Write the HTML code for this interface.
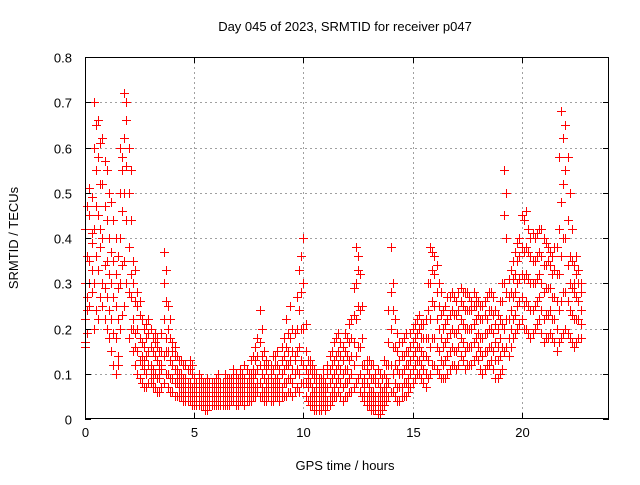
<!DOCTYPE html>
<html><head><meta charset="utf-8"><style>
body{margin:0;background:#fff;font-family:"Liberation Sans",sans-serif}
svg text{font-family:"Liberation Sans",sans-serif;font-size:13px;fill:#000}
</style></head><body>
<svg id="chart" width="640" height="480">
<rect width="640" height="480" fill="#fff"/>
<g id="grid"></g>
<g id="marks"></g>
<rect x="85.5" y="57.5" width="523" height="361" fill="none" stroke="#000" stroke-width="1" shape-rendering="crispEdges"/>
<g id="ticks" shape-rendering="crispEdges"></g>
<text x="345" y="31" text-anchor="middle">Day 045 of 2023, SRMTID for receiver p047</text>
<text x="345" y="470" text-anchor="middle">GPS time / hours</text>
<text transform="translate(18,238) rotate(-90)" text-anchor="middle">SRMTID / TECUs</text>
</svg>
<script>
const xTicks=[0,5,10,15,20];
const yTicks=[0,0.1,0.2,0.3,0.4,0.5,0.6,0.7,0.8];
const yTickLabels=["0","0.1","0.2","0.3","0.4","0.5","0.6","0.7","0.8"];
// times (hours) and values (hundredths of TECU)
const times=[0.0,0.2,0.4,0.6,0.8,1.0,1.2,1.4,1.6,1.8,2.0,2.2,2.4,2.6,2.8,3.0,3.2,3.4,3.6,3.8,4.0,4.2,4.4,4.6,4.8,5.0,5.2,5.4,5.6,5.8,6.0,6.2,6.4,6.6,6.8,7.0,7.2,7.4,7.6,7.8,8.0,8.2,8.4,8.6,8.8,9.0,9.2,9.4,9.6,9.8,10.0,10.2,10.4,10.6,10.8,11.0,11.2,11.4,11.6,11.8,12.0,12.2,12.4,12.6,12.8,13.0,13.2,13.4,13.6,13.8,14.0,14.2,14.4,14.6,14.8,15.0,15.2,15.4,15.6,15.8,16.0,16.2,16.4,16.6,16.8,17.0,17.2,17.4,17.6,17.8,18.0,18.2,18.4,18.6,18.8,19.0,19.2,19.4,19.6,19.8,20.0,20.2,20.4,20.6,20.8,21.0,21.2,21.4,21.6,21.8,22.0,22.2,22.4,22.6];
const values=[
[16,22,30,42,17],[25,35,45,51,30],[20,30,42,60,70],[22,33,45,58,66],[25,30,40,52,62],[20,27,35,44,55],[15,22,30,37,48],[10,18,25,32,40],[20,30,40,50,60],[25,35,50,62,72],
[18,28,38,50,60],[15,22,30,35,20],[10,15,20,25,28],[8,12,17,22,14],[7,10,14,18,21],[8,12,16,20,10],[7,10,14,17,19],[6,9,12,15,10],[8,14,22,30,37],[7,10,15,20,25],
[6,9,12,15,17],[5,8,11,14,10],[5,7,10,13,8],[4,6,9,12,7],[4,6,8,11,13],[3,5,7,9,6],[3,5,6,8,10],[3,4,6,8,5],[2,4,5,7,9],[3,5,6,8,4],
[3,4,6,7,9],[3,5,6,8,4],[3,5,7,8,10],[3,5,7,9,6],[4,6,8,9,11],[3,5,7,9,6],[4,6,8,10,5],[4,6,8,11,7],[4,6,8,10,13],[5,7,10,13,16],
[5,8,12,17,24],[4,6,9,12,15],[5,7,9,12,6],[4,6,8,11,14],[5,7,9,12,15],[5,7,10,13,16],[5,8,12,16,22],[6,9,13,18,25],[6,10,14,19,13],[6,10,16,24,33],
[8,12,20,30,40],[4,7,10,13,9],[3,5,7,10,12],[2,4,6,8,10],[2,3,5,7,9],[2,4,6,8,4],[3,5,8,11,14],[5,7,10,13,17],[6,9,12,15,19],[4,7,10,13,16],
[5,8,11,14,18],[6,10,14,18,22],[8,14,22,30,38],[6,10,16,24,32],[4,6,9,12,7],[3,5,7,10,13],[2,4,6,9,12],[1,3,5,8,11],[2,4,6,9,3],[4,6,9,12,7],
[6,12,20,28,38],[5,8,12,16,22],[4,7,10,13,17],[5,8,11,14,18],[6,9,12,15,7],[8,11,14,17,20],[10,13,16,19,22],[9,12,15,18,21],[7,10,14,18,22],[10,16,22,30,38],
[12,18,25,32,36],[10,15,20,25,30],[9,12,16,20,24],[10,14,18,22,27],[12,16,20,24,28],[11,15,19,23,26],[14,18,22,26,29],[11,15,20,24,28],[12,16,20,24,27],[13,17,21,25,28],
[13,16,19,23,26],[10,14,18,22,25],[12,15,19,22,27],[13,16,20,24,28],[9,13,17,21,24],[10,14,18,22,26],[15,20,30,45,55],[14,18,22,27,31],[18,22,27,31,35],[20,25,30,35,39],
[22,27,32,38,45],[20,26,32,38,46],[18,24,30,36,40],[20,25,30,35,40],[22,27,32,37,42],[17,22,28,34,40],[18,23,29,35,38],[18,22,27,32,36],[15,20,26,32,38],[18,26,36,48,68],
[20,28,40,55,65],[18,24,30,36,50],[16,22,28,34,30],[18,22,26,30,33]];
// second pass of readings, offset between the first set of times
const times2=[0.1,0.3,0.5,0.7,0.9,1.1,1.3,1.5,1.7,1.9,2.1,2.3,2.5,2.7,2.9,3.1,3.3,3.5,3.7,3.9,4.1,4.3,4.5,4.7,4.9,5.1,5.3,5.5,5.7,5.9,6.1,6.3,6.5,6.7,6.9,7.1,7.3,7.5,7.7,7.9,8.1,8.3,8.5,8.7,8.9,9.1,9.3,9.5,9.7,9.9,10.1,10.3,10.5,10.7,10.9,11.1,11.3,11.5,11.7,11.9,12.1,12.3,12.5,12.7,12.9,13.1,13.3,13.5,13.7,13.9,14.1,14.3,14.5,14.7,14.9,15.1,15.3,15.5,15.7,15.9,16.1,16.3,16.5,16.7,16.9,17.1,17.3,17.5,17.7,17.9,18.1,18.3,18.5,18.7,18.9,19.1,19.3,19.5,19.7,19.9,20.1,20.3,20.5,20.7,20.9,21.1,21.3,21.5,21.7,21.9,22.1,22.3,22.5,22.7];
const values2=[
[19,27,36,47,24],[28,39,49,41,33],[24,36,55,65,47],[27,38,52,61,42],[22,34,47,57,29],[18,24,32,40,50],[12,19,27,35,44],[14,22,29,36,12],[23,34,46,55,58],[30,44,56,66,70],
[20,32,44,55,27],[12,19,26,33,16],[9,13,18,23,26],[7,11,16,20,13],[8,12,15,19,22],[7,11,15,18,9],[6,9,13,16,18],[7,11,15,19,12],[10,18,26,33,15],[6,9,13,18,22],
[5,8,11,14,16],[5,7,10,13,9],[4,6,9,12,7],[4,6,8,11,5],[3,5,7,10,12],[3,5,7,8,4],[3,4,6,7,9],[2,4,5,7,8],[3,4,6,8,5],[3,4,6,7,8],
[3,5,6,8,10],[4,5,7,8,3],[3,5,6,8,9],[4,6,7,9,5],[3,5,7,9,10],[4,5,7,9,11],[3,5,7,9,12],[4,6,8,10,5],[5,7,9,11,14],[6,8,11,14,18],
[5,7,10,14,20],[4,6,8,11,13],[4,6,8,10,12],[5,7,9,12,14],[4,6,8,11,5],[5,8,11,14,18],[6,9,12,15,19],[5,8,11,15,20],[7,11,15,20,27],[8,13,20,28,36],
[5,8,11,15,21],[3,5,8,11,13],[2,4,6,9,11],[2,3,5,7,9],[3,5,7,9,11],[3,4,7,10,12],[4,6,9,12,15],[5,8,11,14,18],[5,8,11,14,17],[5,8,11,15,19],
[6,9,13,17,21],[7,12,17,23,29],[9,16,25,33,36],[5,8,12,18,25],[3,5,8,11,13],[2,4,6,9,12],[2,3,5,8,10],[1,3,5,7,10],[3,5,7,10,13],[5,8,12,17,24],
[6,10,16,24,30],[4,7,11,15,19],[5,7,10,14,17],[5,8,12,15,19],[7,10,13,16,19],[9,12,15,18,21],[10,13,16,20,23],[8,11,14,18,21],[9,13,18,24,30],[12,18,26,33,37],
[11,16,22,28,34],[9,13,18,23,28],[9,13,17,21,25],[11,15,19,23,27],[12,15,19,23,27],[12,16,20,24,28],[13,17,21,25,28],[12,16,20,24,28],[12,16,20,24,26],[14,18,22,25,27],
[11,15,18,22,25],[11,15,19,23,26],[12,16,20,24,28],[11,15,19,23,27],[9,13,16,20,23],[11,16,21,26,30],[16,22,28,40,50],[16,20,24,28,33],[19,23,28,32,37],[21,26,31,36,40],
[20,25,31,37,44],[19,25,31,37,42],[19,24,30,35,41],[21,26,31,36,41],[19,24,30,36,42],[18,23,29,34,39],[19,24,29,34,37],[17,22,27,33,38],[17,24,32,42,58],[19,28,40,52,62],
[19,26,34,44,58],[17,23,29,35,42],[17,22,27,32,36],[18,21,24,28,30]];
const NS="http://www.w3.org/2000/svg";
const X0=85,X1=609,Y0=419,Y1=57;
function xs(h){return X0+h*(X1-X0)/24;}
function ys(v){return Y0-v*(Y0-Y1)/0.8;}
const grid=document.getElementById('grid'),ticks=document.getElementById('ticks'),marks=document.getElementById('marks');
function line(p,x1,y1,x2,y2,st,dash){const l=document.createElementNS(NS,'line');l.setAttribute('x1',x1);l.setAttribute('y1',y1);l.setAttribute('x2',x2);l.setAttribute('y2',y2);l.setAttribute('stroke',st);l.setAttribute('shape-rendering','crispEdges');if(dash)l.setAttribute('stroke-dasharray',dash);p.appendChild(l);return l;}
function txt(p,x,y,s,anchor){const t=document.createElementNS(NS,'text');t.setAttribute('x',x);t.setAttribute('y',y);t.setAttribute('text-anchor',anchor);t.textContent=s;p.appendChild(t);return t;}
yTicks.forEach((v,i)=>{const y=Math.round(ys(v))+0.5;
 if(i>0&&i<yTicks.length-1){const g=line(grid,X0,y,X1,y,'#a0a0a0','2,3');
 
 }
 line(ticks,X0,y,X0+6,y,'#000');line(ticks,X1-6,y,X1,y,'#000');
 const t=txt(ticks,72,y+5,yTickLabels[i],'end');
 
 
});
xTicks.forEach(h=>{const x=Math.round(xs(h))+0.5;
 if(h>0){const g=line(grid,x,Y0,x,Y1,'#a0a0a0','2,3');
 
 }
 line(ticks,x,Y0,x,Y0-6,'#000');line(ticks,x,Y1,x,Y1+6,'#000');
 const t=txt(ticks,x,437,String(h),'middle');
 
 
});
let d='';
function cross(h,v){const x=Math.round(xs(h)),y=Math.round(ys(v/100));
 d+=`M${x-4},${y}h9v1h-9zM${x},${y-4}h1v9h-1z`;}
times.forEach((h,i)=>{values[i].forEach(v=>cross(h,v));});
times2.forEach((h,i)=>{values2[i].forEach(v=>cross(h,v));});
const p=document.createElementNS(NS,'path');
p.setAttribute('d',d);p.setAttribute('fill','#ff0000');p.setAttribute('stroke','none');
p.setAttribute('shape-rendering','crispEdges');


marks.appendChild(p);
</script>
</body></html>
